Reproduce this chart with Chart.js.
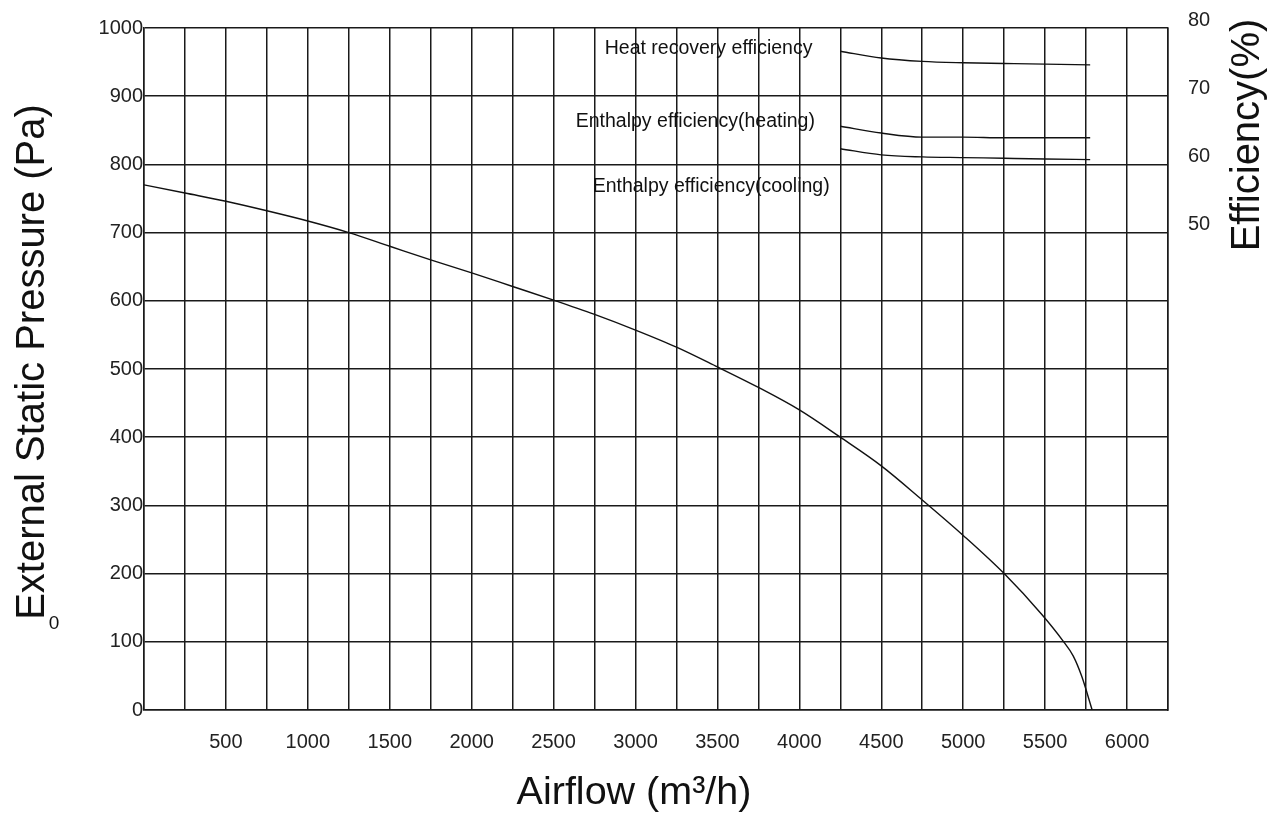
<!DOCTYPE html>
<html>
<head>
<meta charset="utf-8">
<script src="https://cdn.jsdelivr.net/npm/chart.js@4/dist/chart.umd.min.js"></script>
<style>
  html, body { margin: 0; padding: 0; background: #fff; }
  #wrap { width: 1281px; height: 814px; position: relative; }
</style>
</head>
<body>
<div id="wrap"><canvas id="c"></canvas></div>
<script>
// fan curve: airflow (m3/h) vs external static pressure (Pa)
const AIRFLOW  = [0, 250, 500, 750, 1000, 1250, 1500, 1750, 2000, 2250, 2500, 2750, 3000, 3250, 3500, 3750, 4000, 4250, 4500, 4750, 5000, 5250, 5480, 5610, 5672, 5724, 5787];
const PRESSURE = [770, 758, 746, 732, 717, 700, 680, 660, 641, 621, 601, 580, 557, 532, 503, 473, 440, 400, 358, 308, 256, 200, 140, 101, 79, 49, 0];

// efficiency curves (%), right axis
const EFF_AIRFLOW   = [4250, 4500, 4750, 5000, 5250, 5500, 5775];
const HEAT_RECOVERY = [76.6, 75.6, 75.1, 74.9, 74.8, 74.7, 74.6];
const ENTH_HEATING  = [65.6, 64.6, 64.0, 64.0, 63.9, 63.9, 63.9];
const ENTH_COOLING  = [62.3, 61.4, 61.1, 61.0, 60.9, 60.8, 60.7];

const EFF_LABELS = ['Heat recovery efficiency', 'Enthalpy efficiency(heating)', 'Enthalpy efficiency(cooling)'];
const EFF_LABEL_POS = [[4080, 77.0], [4095, 66.3], [4185, 56.7]]; // right edge (airflow), efficiency

const X_TICKS_SHOWN = [500, 1000, 1500, 2000, 2500, 3000, 3500, 4000, 4500, 5000, 5500, 6000];
const Y2_TICKS_SHOWN = [50, 60, 70, 80];

const FONT = '"Liberation Sans", Arial, sans-serif';
const GRID = '#1a1a1a';

const pts = (xs, ys) => xs.map((x, i) => ({ x, y: ys[i] }));

const textPlugin = {
  id: 'texts',
  afterDraw(chart) {
    const { ctx, scales } = chart;
    const x = scales.x, y2 = scales.y2;
    ctx.save();
    ctx.fillStyle = '#111';
    // series labels
    ctx.font = '19.5px ' + FONT;
    ctx.textAlign = 'right';
    ctx.textBaseline = 'middle';
    EFF_LABELS.forEach((t, i) => {
      ctx.fillText(t, x.getPixelForValue(EFF_LABEL_POS[i][0]), y2.getPixelForValue(EFF_LABEL_POS[i][1]));
    });
    // axis titles
    ctx.font = '39.5px ' + FONT;
    ctx.textAlign = 'center';
    ctx.textBaseline = 'alphabetic';
    ctx.fillText('Airflow (m\u00b3/h)', 634, 804);
    ctx.font = '40px ' + FONT;
    ctx.save();
    ctx.translate(44, 362);
    ctx.rotate(-Math.PI / 2);
    ctx.fillText('External Static Pressure (Pa)', 0, 0);
    ctx.restore();
    ctx.save();
    ctx.translate(1259, 135);
    ctx.rotate(-Math.PI / 2);
    ctx.fillText('Efficiency(%)', 0, 0);
    ctx.restore();
    // stray zero beside the left title
    ctx.font = '19px ' + FONT;
    ctx.fillText('0', 54, 629);
    ctx.restore();
  }
};

const tickFont = { family: FONT, size: 20 };
const noPad = s => { s.paddingTop = 0; s.paddingBottom = 0; };

new Chart(document.getElementById('c'), {
  type: 'line',
  data: {
    datasets: [
      { data: pts(AIRFLOW, PRESSURE), yAxisID: 'y', borderColor: '#111', borderWidth: 1.4, pointRadius: 0, cubicInterpolationMode: 'monotone', fill: false },
      { data: pts(EFF_AIRFLOW, HEAT_RECOVERY), yAxisID: 'y2', borderColor: '#111', borderWidth: 1.4, pointRadius: 0, cubicInterpolationMode: 'monotone', fill: false },
      { data: pts(EFF_AIRFLOW, ENTH_HEATING), yAxisID: 'y2', borderColor: '#111', borderWidth: 1.4, pointRadius: 0, cubicInterpolationMode: 'monotone', fill: false },
      { data: pts(EFF_AIRFLOW, ENTH_COOLING), yAxisID: 'y2', borderColor: '#111', borderWidth: 1.4, pointRadius: 0, cubicInterpolationMode: 'monotone', fill: false },
    ]
  },
  options: {
    responsive: true, maintainAspectRatio: false, animation: false,
    layout: { padding: { top: 28, left: 0, right: 0, bottom: 0 } },
    plugins: { legend: { display: false }, tooltip: { enabled: false } },
    scales: {
      x: {
        type: 'linear', min: 0, max: 6250,
        afterFit: s => { s.height = 104; s.paddingLeft = 0; s.paddingRight = 0; },
        border: { display: true, color: GRID, width: 1.5 },
        grid: { color: GRID, lineWidth: 1.5, drawTicks: false },
        ticks: {
          stepSize: 250, autoSkip: false, maxRotation: 0, padding: 20,
          color: '#222', font: tickFont,
          callback: v => X_TICKS_SHOWN.includes(v) ? String(v) : ''
        }
      },
      y: {
        position: 'left', min: 0, max: 1000,
        afterFit: s => { s.width = 144; noPad(s); },
        border: { display: true, color: GRID, width: 1.5 },
        grid: { color: GRID, lineWidth: 1.5, drawTicks: false },
        ticks: { stepSize: 100, padding: 1, color: '#222', font: tickFont, callback: v => String(v) }
      },
      y2: {
        position: 'right', min: -20, max: 80,
        afterFit: s => { s.width = 113; noPad(s); },
        border: { display: true, color: GRID, width: 1.5 },
        grid: { display: false, drawTicks: false },
        ticks: {
          stepSize: 10, padding: 20, labelOffset: -8, color: '#222', font: tickFont,
          callback: v => Y2_TICKS_SHOWN.includes(v) ? String(v) : ''
        }
      }
    }
  },
  plugins: [textPlugin]
});
</script>
</body>
</html>
